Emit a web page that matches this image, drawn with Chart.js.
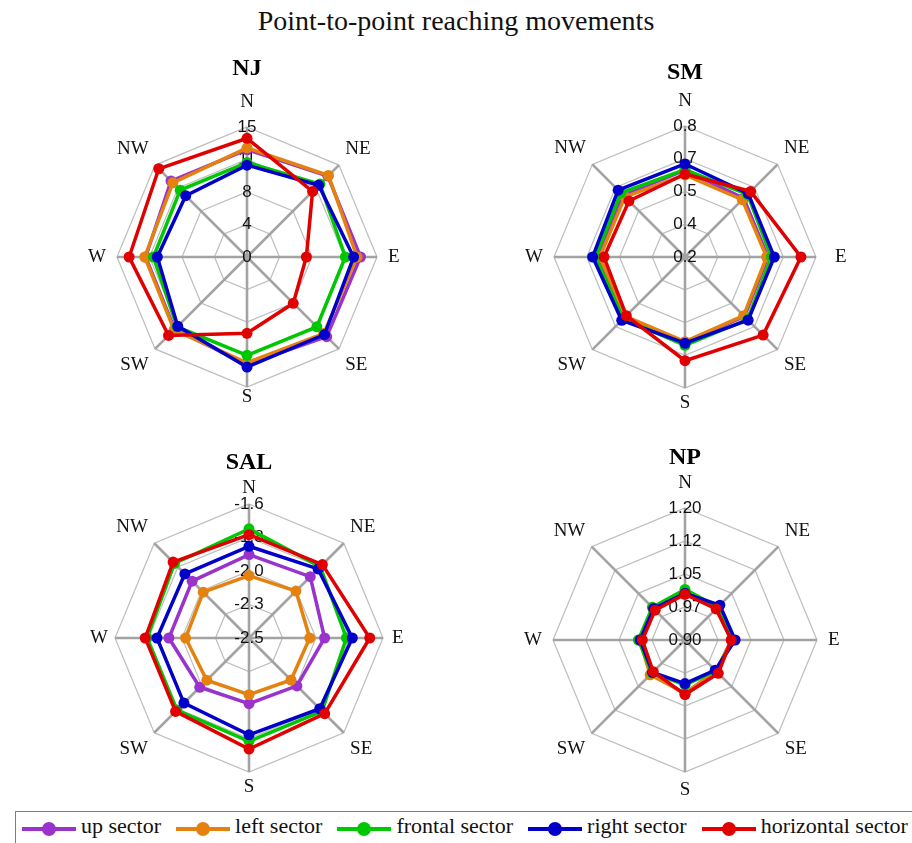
<!DOCTYPE html>
<html>
<head>
<meta charset="utf-8">
<title>Point-to-point reaching movements</title>
<script src="https://cdn.jsdelivr.net/npm/chart.js@4/dist/chart.umd.min.js"></script>
<style>
  html, body { margin: 0; padding: 0; background: #ffffff; }
  #page { position: relative; width: 912px; height: 843px; overflow: hidden; }
  h1 {
    position: absolute; left: 0; top: 7px; width: 912px; margin: 0;
    text-align: center; font-family: 'Liberation Serif', serif; font-weight: 400;
    font-size: 28px; line-height: 28px; color: #111;
  }
  canvas { position: absolute; }
  #legend {
    position: absolute; left: 15px; top: 811px; width: 930px; height: 40px;
    box-sizing: border-box; border: 1px solid #7f7f7f; background: #fff;
    display: flex; align-items: flex-start; padding: 3px 0 0 6px; gap: 15px;
  }
  .item { display: flex; align-items: flex-start; height: 22px; }
  .marker { position: relative; width: 54px; height: 14px; margin-top: 7px; margin-right: 5px; }
  .marker .ln { position: absolute; left: 0; right: 0; top: 5px; height: 4px; }
  .marker .dot { position: absolute; left: 20px; top: 0; width: 14px; height: 14px; border-radius: 50%; }
  .item span {
    font-family: 'Liberation Serif', serif; font-weight: 400; font-size: 22px;
    line-height: 22px; color: #111; white-space: nowrap;
  }
</style>
</head>
<body>
<div id="page">
  <h1>Point-to-point reaching movements</h1>
  <canvas id="c-nj"></canvas>
  <canvas id="c-sm"></canvas>
  <canvas id="c-sal"></canvas>
  <canvas id="c-np"></canvas>
  <div id="legend"></div>
</div>
<script>
// Compass directions around each radar
const directions = ['N', 'NE', 'E', 'SE', 'S', 'SW', 'W', 'NW'];
const seriesNames = ['up sector', 'left sector', 'frontal sector', 'right sector', 'horizontal sector'];

// NJ
const njUp       = [12.4, 13.2, 13.1, 13.0, 12.4, 11.8, 11.7, 12.4];
const njLeft     = [12.6, 13.3, 12.7, 12.5, 12.2, 11.9, 11.8, 12.1];
const njFrontal  = [10.9, 11.9, 11.35, 11.4, 11.35, 11.4, 10.8, 10.9];
const njRight    = [10.6, 11.7, 12.3, 12.65, 12.7, 11.3, 10.35, 10.0];
const njHoriz    = [13.7, 10.7, 6.85, 7.55, 8.8, 12.8, 13.6, 14.4];
const njTicks    = ['0', '4', '8', '11', '15'];

// SM
const smUp       = [0.598, 0.580, 0.580, 0.585, 0.590, 0.595, 0.600, 0.600];
const smLeft     = [0.576, 0.571, 0.574, 0.580, 0.588, 0.585, 0.590, 0.590];
const smFrontal  = [0.600, 0.605, 0.596, 0.605, 0.605, 0.600, 0.610, 0.615];
const smRight    = [0.626, 0.610, 0.609, 0.609, 0.595, 0.610, 0.623, 0.633];
const smHoriz    = [0.580, 0.625, 0.731, 0.706, 0.675, 0.580, 0.571, 0.563];
const smTicks    = ['0.2', '0.4', '0.5', '0.7', '0.8'];

// SAL
const salUp      = [-1.940, -1.918, -1.992, -2.045, -2.059, -2.032, -1.962, -1.960];
const salLeft    = [-2.081, -2.054, -2.092, -2.101, -2.119, -2.099, -2.074, -2.065];
const salFrontal = [-1.767, -1.823, -1.846, -1.806, -1.806, -1.815, -1.815, -1.792];
const salRight   = [-1.884, -1.844, -1.806, -1.828, -1.850, -1.882, -1.882, -1.891];
const salHoriz   = [-1.806, -1.803, -1.689, -1.781, -1.754, -1.803, -1.803, -1.779];
const salTicks   = ['-2.5', '-2.3', '-2.0', '-1.8', '-1.6'];

// NP
const npUp       = [1.006, 1.003, 1.006, 1.000, 1.022, 1.008, 1.003, 1.000];
const npLeft     = [1.005, 1.003, 1.006, 1.000, 1.021, 1.012, 1.003, 1.000];
const npFrontal  = [1.015, 1.006, 1.008, 0.999, 1.002, 1.006, 1.006, 1.005];
const npRight    = [1.006, 1.012, 1.014, 0.997, 0.999, 1.004, 1.002, 1.001];
const npHoriz    = [1.004, 1.000, 1.005, 1.007, 1.024, 1.002, 0.997, 0.996];
const npTicks    = ['0.90', '0.97', '1.05', '1.12', '1.20'];

// Styling
const seriesColors = ['#9933cc', '#e5820f', '#00c800', '#0000c8', '#e00000'];
const TICK_FONT = { family: 'Liberation Sans', size: 17 };

const panels = [
  { id: 'c-nj',  title: 'NJ',  series: [njUp, njLeft, njFrontal, njRight, njHoriz],
    min: 0, max: 15, step: 3.75, ticks: njTicks,
    box: { left: 27, top: 53, width: 440, height: 361 }, titlePad: { top: 3.5, bottom: 5.5 },
    labelPad: [6, 0, 2, 0, -8, 0, 2, 0] },
  { id: 'c-sm',  title: 'SM',  series: [smUp, smLeft, smFrontal, smRight, smHoriz],
    min: 0.2, max: 0.8, step: 0.15, ticks: smTicks,
    box: { left: 465, top: 57, width: 440, height: 361 }, titlePad: { top: 4, bottom: 3 },
    labelPad: [6, 0, 10, 0, -3, 0, 2, 0] },
  { id: 'c-sal', title: 'SAL', series: [salUp, salLeft, salFrontal, salRight, salHoriz],
    min: -2.5, max: -1.6, step: 0.225, ticks: salTicks,
    box: { left: 29, top: 447, width: 440, height: 350 }, titlePad: { top: 4, bottom: 4 },
    labelPad: [-3, 0, 0, 0, -3, 0, -2, 0] },
  { id: 'c-np',  title: 'NP',  series: [npUp, npLeft, npFrontal, npRight, npHoriz],
    min: 0.9, max: 1.2, step: 0.075, ticks: npTicks,
    box: { left: 465, top: 442, width: 440, height: 361 }, titlePad: { top: 4, bottom: 1 },
    labelPad: [6, 0, 2, 0, 0, 0, 2, 0] }
];

// The radial scale skips its innermost tick label when the axis starts at or above zero;
// this writes that label at the centre, beneath the data lines.
const centreTickLabel = {
  id: 'centreTickLabel',
  beforeDatasetsDraw(chart) {
    const r = chart.scales.r;
    if (!r || r.min < 0 || !r.ticks.length) return;
    const ctx = chart.ctx;
    ctx.save();
    ctx.font = TICK_FONT.size + 'px "' + TICK_FONT.family + '"';
    ctx.fillStyle = '#111111';
    ctx.textAlign = 'center';
    ctx.textBaseline = 'middle';
    ctx.fillText(r.ticks[0].label, r.xCenter, r.yCenter - r.getDistanceFromCenterForValue(r.min));
    ctx.restore();
  }
};

panels.forEach(p => {
  const canvas = document.getElementById(p.id);
  canvas.width = p.box.width;
  canvas.height = p.box.height;
  canvas.style.left = p.box.left + 'px';
  canvas.style.top = p.box.top + 'px';
  canvas.style.width = p.box.width + 'px';
  canvas.style.height = p.box.height + 'px';

  const datasets = p.series.map((values, i) => ({
    label: seriesNames[i],
    data: values,
    borderColor: seriesColors[i],
    backgroundColor: seriesColors[i],
    pointBackgroundColor: seriesColors[i],
    pointBorderColor: seriesColors[i],
    pointBorderWidth: 0,
    pointRadius: 5.5,
    borderWidth: 3.5,
    fill: false,
    tension: 0,
    order: seriesNames.length - i
  }));

  new Chart(canvas, {
    type: 'radar',
    data: { labels: directions, datasets },
    plugins: [centreTickLabel],
    options: {
      responsive: false,
      animation: false,
      devicePixelRatio: 1,
      layout: { padding: 0 },
      plugins: {
        legend: { display: false },
        tooltip: { enabled: false },
        title: {
          display: true,
          text: p.title,
          color: '#000000',
          font: { family: 'Liberation Serif', size: 24, weight: 'bold', lineHeight: 1 },
          padding: p.titlePad
        }
      },
      scales: {
        r: {
          min: p.min,
          max: p.max,
          beginAtZero: false,
          startAngle: 0,
          grid: { color: '#bdbdbd', lineWidth: 1.2, circular: false },
          angleLines: { display: true, color: '#a3a3a3', lineWidth: 2.6 },
          ticks: {
            stepSize: p.step,
            font: TICK_FONT,
            color: '#111111',
            showLabelBackdrop: false,
            backdropPadding: 0.5,
            callback: (value, index) => p.ticks[index]
          },
          pointLabels: {
            display: true,
            color: '#111111',
            font: { family: 'Liberation Serif', size: 19, lineHeight: 1 },
            padding: ctx => p.labelPad[ctx.index]
          }
        }
      }
    }
  });
});

// Legend row along the bottom
const legend = document.getElementById('legend');
seriesNames.forEach((name, i) => {
  const item = document.createElement('div');
  item.className = 'item';
  const marker = document.createElement('div');
  marker.className = 'marker';
  const ln = document.createElement('div');
  ln.className = 'ln';
  ln.style.background = seriesColors[i];
  const dot = document.createElement('div');
  dot.className = 'dot';
  dot.style.background = seriesColors[i];
  marker.appendChild(ln);
  marker.appendChild(dot);
  const text = document.createElement('span');
  text.textContent = name;
  item.appendChild(marker);
  item.appendChild(text);
  legend.appendChild(item);
});
</script>
</body>
</html>
